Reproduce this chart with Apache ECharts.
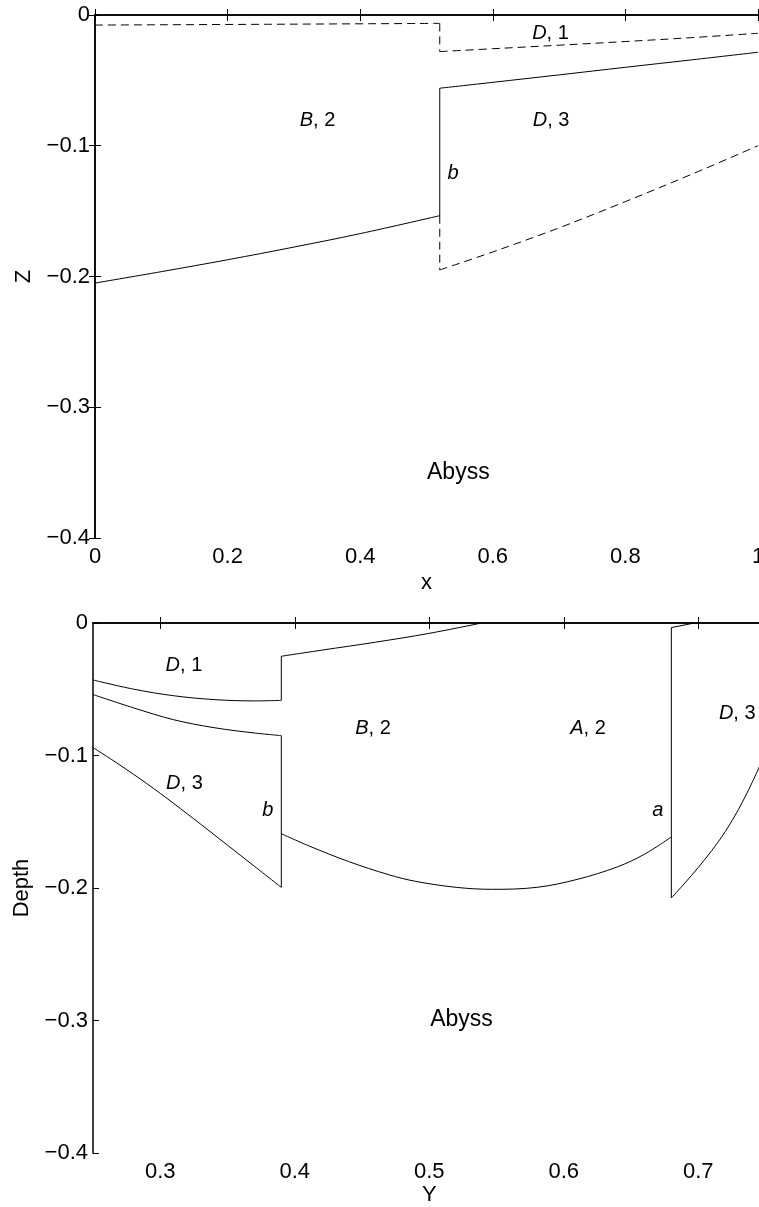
<!DOCTYPE html>
<html>
<head>
<meta charset="utf-8">
<script src="https://cdn.jsdelivr.net/npm/echarts@6/dist/echarts.min.js"></script>
<style>
  html, body { margin: 0; padding: 0; background: #fff; overflow: hidden; }
  #chart { width: 759px; height: 1207px; }
</style>
</head>
<body>
<div id="chart"></div>
<script>
// ---- top panel (Z against x) ----
// solid lower edge of B,2 and upper edge of D,3 (joined by the jump at b)
let topLowerX = [0, 0.1, 0.2, 0.3, 0.4, 0.52];
let topLowerY = [-0.205, -0.1963, -0.1872, -0.1775, -0.1672, -0.1535];
let topUpperX = [0.52, 0.6, 0.7, 0.8, 0.9, 1.0];
let topUpperY = [-0.056, -0.0515, -0.0458, -0.040, -0.0343, -0.0285];
// dashed ones
let topSurfX = [0, 0.26, 0.52];
let topSurfY = [-0.0077, -0.0071, -0.0064];
let topD1X = [0.52, 0.6, 0.7, 0.8, 0.9, 1.0];
let topD1Y = [-0.028, -0.0258, -0.0231, -0.0203, -0.0173, -0.014];
let topDeepX = [0.52, 0.6, 0.7, 0.8, 0.9, 1.0];
let topDeepY = [-0.195, -0.1812, -0.1628, -0.1427, -0.1218, -0.100];

let topLabels = ["B, 2", "D, 3", "D, 1", "b", "Abyss"];
let topLabelX = [0.3356, 0.688, 0.687, 0.540, 0.548];
let topLabelY = [-0.0808, -0.0806, -0.014, -0.121, -0.350];

// ---- bottom panel (Depth against Y) ----
let botD1X = [0.25, 0.28, 0.31, 0.34, 0.37, 0.39];
let botD1Y = [-0.043, -0.0499, -0.0549, -0.0578, -0.0588, -0.0584];
let botB2TopX = [0.39, 0.42, 0.46, 0.50, 0.539];
let botB2TopY = [-0.0251, -0.0205, -0.0145, -0.0078, 0];
let botD3TopX = [0.25, 0.28, 0.31, 0.34, 0.37, 0.39];
let botD3TopY = [-0.054, -0.064, -0.073, -0.079, -0.083, -0.085];
let botD3BaseX = [0.25, 0.27, 0.29, 0.31, 0.33, 0.35, 0.37, 0.39];
let botD3BaseY = [-0.094, -0.1072, -0.1212, -0.1362, -0.1518, -0.1677, -0.1836, -0.1995];
let botBaseX = [0.39, 0.41, 0.44, 0.47, 0.49, 0.52, 0.547, 0.58, 0.61, 0.64, 0.66, 0.68];
let botBaseY = [-0.159, -0.168, -0.180, -0.190, -0.195, -0.1995, -0.201, -0.1995, -0.1935, -0.184, -0.1745, -0.1615];
let botRightTopX = [0.697, 0.68];
let botRightTopY = [0, -0.0035];
let botRightX = [0.68, 0.69, 0.70, 0.71, 0.72, 0.73, 0.74, 0.75];
let botRightY = [-0.2075, -0.1963, -0.1845, -0.1718, -0.1575, -0.1405, -0.1205, -0.098];

let botLabels = ["D, 1", "B, 2", "A, 2", "D, 3", "D, 3", "b", "a", "Abyss"];
let botLabelX = [0.3176, 0.4582, 0.618, 0.729, 0.318, 0.380, 0.670, 0.524];
let botLabelY = [-0.0319, -0.0797, -0.0797, -0.068, -0.1212, -0.1414, -0.1414, -0.2995];

let botXTicks = [0.3, 0.4, 0.5, 0.6, 0.7];

const FONT = "Liberation Sans, Arial, sans-serif";

function zip(xs, ys) {
  return xs.map((x, i) => [x, ys[i]]);
}
function first(xs, ys) { return [xs[0], ys[0]]; }
function last(xs, ys) { return [xs[xs.length - 1], ys[ys.length - 1]]; }

function minus(v) {
  return String(v).replace("-", "\u2212");
}

function lineSeries(points, xi, yi, dashed, smooth) {
  return {
    type: "line",
    xAxisIndex: xi,
    yAxisIndex: yi,
    data: points,
    showSymbol: false,
    symbol: "none",
    smooth: smooth ? 0.35 : false,
    clip: true,
    silent: true,
    lineStyle: {
      color: "#000",
      width: 1,
      type: dashed ? [8, 5] : "solid",
    },
  };
}

function labelSeries(names, xs, ys, xi, yi) {
  return {
    type: "scatter",
    xAxisIndex: xi,
    yAxisIndex: yi,
    symbolSize: 1,
    silent: true,
    itemStyle: { color: "#fff", opacity: 0 },
    data: names.map((n, i) => ({
      value: [xs[i], ys[i]],
      name: n,
      label: n == "Abyss" ? { fontSize: 23 } : {},
    })),
    label: {
      show: true,
      position: "inside",
      color: "#000",
      opacity: 1,
      textBorderWidth: 0,
      fontFamily: FONT,
      fontSize: 20,
      formatter: (p) => {
        if (p.name == "Abyss") return p.name;
        return p.name.replace(/^([A-Za-z])/, "{i|$1}");
      },
      rich: {
        i: { fontStyle: "italic", fontSize: 20, fontFamily: FONT, color: "#000", textBorderWidth: 0 },
      },
    },
  };
}

const axisLine = { show: true, lineStyle: { color: "#000", width: 1.5 } };
const tick = { show: true, inside: true, length: 6, lineStyle: { color: "#000", width: 1 } };
const labelStyle = { color: "#000", fontFamily: FONT, fontSize: 22 };
const nameStyle = { color: "#000", fontFamily: FONT, fontSize: 22 };

var chart = echarts.init(document.getElementById("chart"));

chart.setOption({
  animation: false,
  backgroundColor: "#fff",
  grid: [
    { left: 95, top: 15, width: 663, height: 523, outerBoundsMode: "none", containLabel: false },
    { left: 93, top: 623, width: 672.5, height: 530, outerBoundsMode: "none", containLabel: false },
  ],
  xAxis: [
    {
      gridIndex: 0, type: "value", min: 0, max: 1, interval: 0.2,
      axisLine: axisLine, axisTick: tick, splitLine: { show: false },
      axisLabel: Object.assign({ margin: 8 }, labelStyle),
      name: "x", nameLocation: "middle", nameGap: 34, nameTextStyle: nameStyle,
    },
    {
      gridIndex: 0, type: "value", position: "top", min: 0, max: 1, interval: 0.2,
      axisLine: axisLine, axisTick: tick, splitLine: { show: false },
      axisLabel: { show: false },
    },
    {
      gridIndex: 1, type: "value", min: 0.25, max: 0.75,
      axisLine: axisLine,
      axisTick: Object.assign({ customValues: botXTicks }, tick),
      splitLine: { show: false },
      axisLabel: Object.assign({ margin: 8, customValues: botXTicks }, labelStyle),
      name: "Y", nameLocation: "middle", nameGap: 31, nameTextStyle: nameStyle,
    },
    {
      gridIndex: 1, type: "value", position: "top", min: 0.25, max: 0.75,
      axisLine: axisLine,
      axisTick: Object.assign({ customValues: botXTicks }, tick),
      splitLine: { show: false },
      axisLabel: { show: false },
    },
  ],
  yAxis: [
    {
      gridIndex: 0, type: "value", min: -0.4, max: 0, interval: 0.1,
      axisLine: axisLine, axisTick: tick, splitLine: { show: false },
      axisLabel: Object.assign({ margin: 5, formatter: minus }, labelStyle),
      name: "Z", nameLocation: "middle", nameGap: 60, nameTextStyle: nameStyle,
    },
    {
      gridIndex: 0, type: "value", position: "right", min: -0.4, max: 0, interval: 0.1,
      axisLine: axisLine, axisTick: tick, splitLine: { show: false },
      axisLabel: { show: false },
    },
    {
      gridIndex: 1, type: "value", min: -0.4, max: 0, interval: 0.1,
      axisLine: axisLine, axisTick: tick, splitLine: { show: false },
      axisLabel: Object.assign({ margin: 5, formatter: minus }, labelStyle),
      name: "Depth", nameLocation: "middle", nameGap: 60, nameTextStyle: nameStyle,
    },
  ],
  series: [
    // top panel
    lineSeries(zip(topLowerX, topLowerY), 0, 0, false, true),
    lineSeries([last(topLowerX, topLowerY), first(topUpperX, topUpperY)], 0, 0, false, false),
    lineSeries(zip(topUpperX, topUpperY), 0, 0, false, true),
    lineSeries(zip(topSurfX, topSurfY), 0, 0, true, true),
    lineSeries([last(topSurfX, topSurfY), first(topD1X, topD1Y)], 0, 0, true, false),
    lineSeries(zip(topD1X, topD1Y), 0, 0, true, true),
    lineSeries([last(topLowerX, topLowerY), first(topDeepX, topDeepY)], 0, 0, true, false),
    lineSeries(zip(topDeepX, topDeepY), 0, 0, true, true),
    labelSeries(topLabels, topLabelX, topLabelY, 0, 0),
    // bottom panel
    lineSeries(zip(botD1X, botD1Y), 2, 2, false, true),
    lineSeries([last(botD1X, botD1Y), first(botB2TopX, botB2TopY)], 2, 2, false, false),
    lineSeries(zip(botB2TopX, botB2TopY), 2, 2, false, true),
    lineSeries(zip(botD3TopX, botD3TopY), 2, 2, false, true),
    lineSeries([last(botD3TopX, botD3TopY), last(botD3BaseX, botD3BaseY)], 2, 2, false, false),
    lineSeries(zip(botD3BaseX, botD3BaseY), 2, 2, false, true),
    lineSeries(zip(botBaseX, botBaseY), 2, 2, false, true),
    lineSeries(zip(botRightTopX, botRightTopY), 2, 2, false, false),
    lineSeries([last(botRightTopX, botRightTopY), first(botRightX, botRightY)], 2, 2, false, false),
    lineSeries(zip(botRightX, botRightY), 2, 2, false, true),
    labelSeries(botLabels, botLabelX, botLabelY, 2, 2),
  ],
});
</script>
</body>
</html>
